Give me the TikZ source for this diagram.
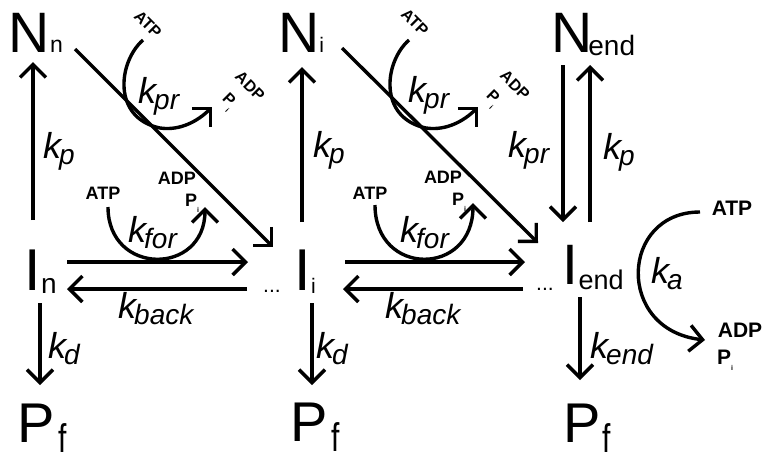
\documentclass[tikz,border=0pt]{standalone}
\usepackage{fontspec}
\usepackage{graphicx}
\setmainfont{Liberation Sans}
\usetikzlibrary{arrows.meta}
\newcommand{\fs}[1]{\fontsize{#1}{#1}\selectfont}
\newcommand{\kk}[1]{{\itshape\fs{36}k\kern-2pt\raisebox{-6pt}{\fs{28}#1}}}
\newcommand{\tinyi}{\raisebox{-6pt}[\height][0pt]{\fs{7}i}}
\newcommand{\subf}{\raisebox{-10pt}[\height][0pt]{\scalebox{0.75}[1]{\fs{40}f}}}
\tikzset{
  arr/.style={line width=3.4pt, -{Straight Barb[length=13pt,width=26pt]}},
  sp/.style={inner sep=0pt, anchor=base west},
  kl/.style={inner sep=0pt, anchor=base west},
  chem/.style={inner sep=0pt, font={\bfseries\fs{18}}},
  bchem/.style={inner sep=0pt, font={\bfseries\fs{21}}},
  rchem/.style={inner sep=0pt, font={\bfseries\fs{16}}, rotate=-45},
}
\begin{document}
\begin{tikzpicture}[x=1pt,y=-1pt]
\useasboundingbox (0,0) rectangle (766,456);
% species
\node[sp] (Nn) at (8.7,52) {\fs{57}N\fs{23}n};
\node[sp] (Ni) at (278,52) {\fs{57}N\fs{21}i};
\node[sp] (Nend) at (551,52) {\fs{57}N\kern-4pt\raisebox{-3pt}{\fs{28}end}};
\node[sp] (In) at (24.6,290) {\fs{59}I\raisebox{-3pt}{\fs{28}n}};
\node[sp] (Ii) at (294.6,290) {\fs{59}I\raisebox{-3pt}{\fs{21}i}};
\node[sp] (Iend) at (562.6,284) {\fs{57}I\raisebox{-5pt}{\fs{27}end}};
\node[sp] (Pf1) at (17.6,442) {\fs{56}P\kern3pt\subf};
\node[sp] (Pf2) at (290.6,441) {\fs{56}P\kern3pt\subf};
\node[sp] (Pf3) at (563.6,442) {\fs{56}P\kern1pt\subf};
\node[sp] (dots1) at (263,292) {\fs{21}...};
\node[sp] (dots2) at (536,290) {\fs{21}...};
% rate labels
\node[kl] (kp1) at (43,158) {\kk{p}};
\node[kl] (kp2) at (313,157) {\kk{p}};
\node[kl] (kp3) at (603,159) {\kk{p}};
\node[kl] (kpr1) at (138,103) {\kk{pr}};
\node[kl] (kpr2) at (408,102) {\kk{pr}};
\node[kl] (kpr3) at (508,157) {\kk{pr}};
\node[kl] (kfor1) at (128,242) {\kk{for}};
\node[kl] (kfor2) at (400,242) {\kk{for}};
\node[kl] (kback1) at (118,318) {\kk{back}};
\node[kl] (kback2) at (385,318) {\kk{back}};
\node[kl] (kd1) at (48,358) {\kk{d}};
\node[kl] (kd2) at (316,358) {\kk{d}};
\node[kl] (kend) at (590,358) {\kk{end}};
\node[kl] (ka) at (651,283) {\kk{a}};
% chemical labels
\node[rchem] (atpr1) at (148,24) {ATP};
\node[rchem] (adpr1) at (250,86) {ADP};
\node[rchem] (pr1) at (230,100) {P\tinyi};
\node[rchem] (atpr2) at (415,22) {ATP};
\node[rchem] (adpr2) at (515,85) {ADP};
\node[rchem] (pr2) at (494,97) {P\tinyi};
\node[chem] (atpf1) at (103,193) {ATP};
\node[chem] (adpf1) at (177,178) {ADP};
\node[chem] (pf1) at (192,200) {P\tinyi};
\node[chem] (atpf2) at (370,193) {ATP};
\node[chem] (adpf2) at (443,177) {ADP};
\node[chem] (pf2) at (459,199) {P\tinyi};
\node[bchem] (atpa) at (732,208) {ATP};
\node[bchem] (adpa) at (740,330) {ADP};
\node[bchem] (pa) at (725,357) {P\tinyi};
% connector end points
\coordinate (u1s) at (33,220);   \coordinate (u1e) at (33,62);
\coordinate (u2s) at (302,222);  \coordinate (u2e) at (302,67);
\coordinate (d3s) at (563,65);   \coordinate (d3e) at (563,222);
\coordinate (u3s) at (590,222);  \coordinate (u3e) at (590,65);
\coordinate (p1s) at (40,303);   \coordinate (p1e) at (40,385);
\coordinate (p2s) at (312,303);  \coordinate (p2e) at (312,385);
\coordinate (p3s) at (580,297);  \coordinate (p3e) at (580,380);
\coordinate (f1s) at (67,262);   \coordinate (f1e) at (248,262);
\coordinate (f2s) at (345,262);  \coordinate (f2e) at (525,262);
\coordinate (b1s) at (247,289);  \coordinate (b1e) at (67,289);
\coordinate (b2s) at (523,289);  \coordinate (b2e) at (343,289);
\coordinate (g1s) at (75,49);    \coordinate (g1e) at (273,247);
\coordinate (g2s) at (342,48);   \coordinate (g2e) at (538,243);
\coordinate (r1s) at (143,40);   \coordinate (r1e) at (212,107);
\coordinate (r2s) at (409,40);   \coordinate (r2e) at (478,107);
\coordinate (q1s) at (108,207);  \coordinate (q1e) at (205,207);
\coordinate (q2s) at (375,205);  \coordinate (q2e) at (473,203);
\coordinate (as) at (700,212);   \coordinate (ae) at (705,340);
% straight connectors
\draw[arr] (u1s) -- (u1e);
\draw[arr] (u2s) -- (u2e);
\draw[arr] (d3s) -- (d3e);
\draw[arr] (u3s) -- (u3e);
\draw[arr] (p1s) -- (p1e);
\draw[arr] (p2s) -- (p2e);
\draw[arr] (p3s) -- (p3e);
\draw[arr] (f1s) -- (f1e);
\draw[arr] (f2s) -- (f2e);
\draw[arr] (b1s) -- (b1e);
\draw[arr] (b2s) -- (b2e);
\draw[arr] (g1s) -- (g1e);
\draw[arr] (g2s) -- (g2e);
% curved connectors
\draw[arr] (r1s) .. controls (118,62) and (112,118) .. (160,128) .. controls (180,131) and (198,121) .. (r1e);
\draw[arr] (r2s) .. controls (384,62) and (378,118) .. (426,128) .. controls (446,131) and (464,121) .. (r2e);
\draw[arr] (q1s) .. controls (108,276) and (205,276) .. (q1e);
\draw[arr] (q2s) .. controls (375,277) and (473,277) .. (q2e);
\draw[arr] (as) .. controls (620,212) and (615,330) .. (ae);
\end{tikzpicture}
\end{document}
